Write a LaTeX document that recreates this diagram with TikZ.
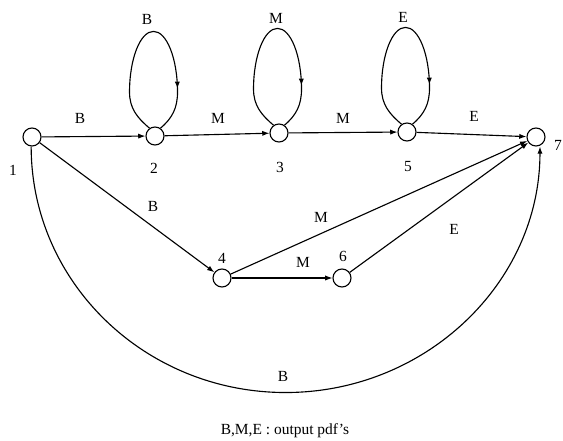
\documentclass[tikz,border=0pt]{standalone}
\usepackage{fontspec}
\setmainfont{Liberation Serif}
\usetikzlibrary{arrows.meta,decorations.markings}

\begin{document}
\begin{tikzpicture}[
  font=\fontsize{11}{13}\selectfont, >={Latex[length=1.8mm,width=1.3mm]},
  state/.style={draw, circle, line width=0.8pt, inner sep=0pt, minimum size=4.5mm},
  edge/.style={->, line width=0.8pt},
  selfloop/.style={line width=0.8pt, postaction={decorate},
    decoration={markings, mark=at position 0.8 with {\arrow{>}}}},
]
\useasboundingbox (0,0) rectangle (14.075,11.025);
% states
\node[state] (n1) at (0.8,7.6) {};
\node[state] (n2) at (3.875,7.625) {};
\node[state] (n3) at (6.975,7.7) {};
\node[state] (n5) at (10.175,7.725) {};
\node[state] (n7) at (13.4,7.6) {};
\node[state] (n4) at (5.55,4.075) {};
\node[state] (n6) at (8.55,4.075) {};
% state numbers
\node (t1) at (0.325,6.775) {1};
\node (t2) at (3.85,6.825) {2};
\node (t3) at (7.0,6.85) {3};
\node (t5) at (10.2,6.85) {5};
\node (t7) at (13.95,7.4) {7};
\node (t4) at (5.55,4.575) {4};
\node (t6) at (8.575,4.625) {6};
% self loops
\draw[selfloop] (n2.125) to[out=140,in=-90] ++(-0.5,0.9)
  arc[start angle=180, end angle=0, x radius=0.6, y radius=1.52] to[out=-90,in=40] (n2.55);
\draw[selfloop] (n3.125) to[out=140,in=-90] ++(-0.5,0.9)
  arc[start angle=180, end angle=0, x radius=0.6, y radius=1.52] to[out=-90,in=40] (n3.55);
\draw[selfloop] (n5.125) to[out=140,in=-90] ++(-0.5,0.9)
  arc[start angle=180, end angle=0, x radius=0.6, y radius=1.52] to[out=-90,in=40] (n5.55);
\node (lb2) at (3.675,10.55) {B};
\node (lb3) at (6.9,10.575) {M};
\node (lb5) at (10.075,10.6) {E};
% transitions
\draw[edge] (n1) -- (n2);
\draw[edge] (n2) -- (n3);
\draw[edge] (n3) -- (n5);
\draw[edge] (n5) -- (n7);
\draw[edge] (n1) -- (n4);
\draw[edge] (n4) -- (n6);
\draw[edge] (n4) -- (n7);
\draw[edge] (n6) -- (n7);
\draw[edge] (n1.265) arc[start angle=180, end angle=360, x radius=6.36, y radius=6.15];
% output labels
\node (l12) at (2.0,8.075) {B};
\node (l23) at (5.45,8.075) {M};
\node (l35) at (8.575,8.075) {M};
\node (l57) at (11.85,8.125) {E};
\node (l14) at (3.825,5.875) {B};
\node (l47) at (8.025,5.6) {M};
\node (l46) at (7.575,4.475) {M};
\node (l67) at (11.35,5.3) {E};
\node (l17) at (7.075,1.625) {B};
% legend
\node (legend) at (7.125,0.25) {B,M,E : output pdf's};
\end{tikzpicture}
\end{document}
